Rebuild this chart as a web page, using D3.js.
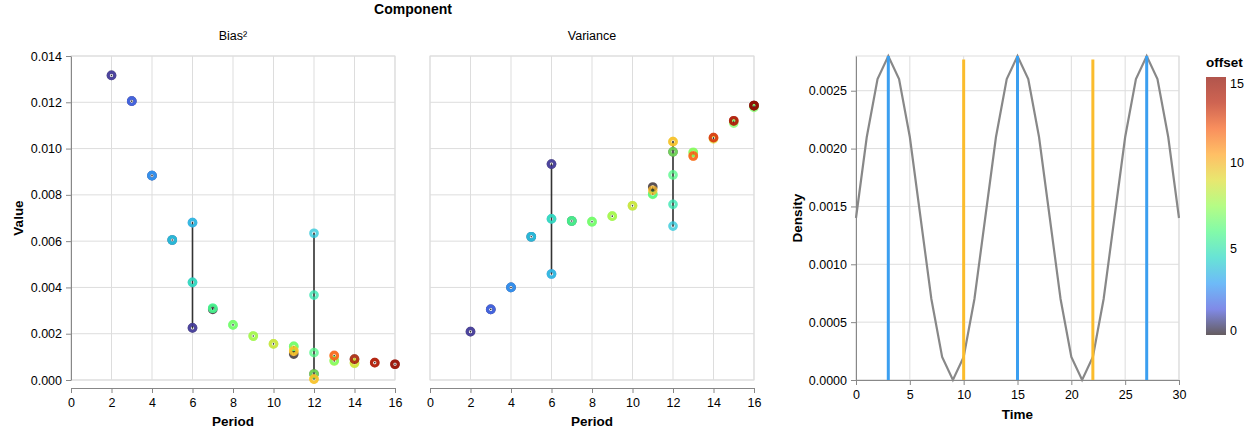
<!DOCTYPE html>
<html>
<head>
<meta charset="utf-8">
<script src="https://cdn.jsdelivr.net/npm/d3@7"></script>
<style>
body { margin: 0; background: #fff; }
svg text { font-family: "Liberation Sans", Arial, Helvetica, sans-serif; }
</style>
</head>
<body>
<div id="chart"></div>
<script>
// each point: [period, offset, value]
var biasPoints = [
    [2, 0, 0.01316], [2, 1, 0.01316],
    [3, 0, 0.01205], [3, 1, 0.01205], [3, 2, 0.01205],
    [4, 0, 0.00883], [4, 2, 0.00883], [4, 3, 0.00883],
    [5, 0, 0.00605], [5, 3, 0.00605], [5, 4, 0.00605],
    [6, 0, 0.00225], [6, 1, 0.00225], [6, 3, 0.00422], [6, 5, 0.00422], [6, 2, 0.0068], [6, 4, 0.0068],
    [7, 0, 0.00305], [7, 5, 0.0031], [7, 6, 0.0031],
    [8, 6, 0.00238], [8, 7, 0.00238],
    [9, 7, 0.0019], [9, 8, 0.0019],
    [10, 7, 0.00156], [10, 9, 0.00156],
    [11, 0, 0.00112], [11, 6, 0.00145], [11, 7, 0.00145], [11, 9, 0.00128], [11, 10, 0.00124],
    [12, 4, 0.00634], [12, 5, 0.00367], [12, 6, 0.00118], [12, 0, 0.00026], [12, 7, 0.00026],
    [12, 9, 0.00004], [12, 10, 0.00004],
    [13, 8, 0.00082], [13, 7, 0.00084], [13, 11, 0.00104], [13, 12, 0.00106],
    [14, 8, 0.00072], [14, 9, 0.00074], [14, 0, 0.0009], [14, 13, 0.0009],
    [15, 13, 0.00075], [15, 14, 0.00075],
    [16, 14, 0.00068], [16, 15, 0.00068]
];
var variancePoints = [
    [2, 0, 0.00209], [2, 1, 0.00209],
    [3, 0, 0.00305], [3, 1, 0.00305], [3, 2, 0.00305],
    [4, 0, 0.004], [4, 2, 0.004], [4, 3, 0.004],
    [5, 0, 0.00619], [5, 3, 0.00619], [5, 4, 0.00619],
    [6, 0, 0.00933], [6, 1, 0.00933], [6, 3, 0.00696], [6, 5, 0.00696], [6, 2, 0.00458], [6, 4, 0.00458],
    [7, 0, 0.00687], [7, 5, 0.00687], [7, 6, 0.00687],
    [8, 6, 0.00684], [8, 7, 0.00684],
    [9, 7, 0.00708], [9, 8, 0.00708],
    [10, 7, 0.00753], [10, 9, 0.00753],
    [11, 7, 0.00802], [11, 6, 0.00804], [11, 0, 0.00834], [11, 10, 0.0082],
    [12, 4, 0.00665], [12, 5, 0.00759], [12, 6, 0.00886], [12, 0, 0.00986], [12, 7, 0.00986],
    [12, 9, 0.0103], [12, 10, 0.0103],
    [13, 8, 0.00982], [13, 7, 0.00984], [13, 11, 0.00968], [13, 12, 0.00968],
    [14, 9, 0.01042], [14, 12, 0.01047], [14, 13, 0.01047],
    [15, 7, 0.0111], [15, 13, 0.0112], [15, 14, 0.0112],
    [16, 7, 0.01178], [16, 0, 0.01186], [16, 14, 0.01186], [16, 15, 0.01186]
];
var periodTicks = [0, 2, 4, 6, 8, 10, 12, 14, 16];
var valueTicks = [0, 0.002, 0.004, 0.006, 0.008, 0.010, 0.012, 0.014];

var densityTime = [0, 1, 2, 3, 4, 5, 6, 7, 8, 9, 10, 11, 12, 13, 14, 15, 16, 17, 18, 19, 20,
                   21, 22, 23, 24, 25, 26, 27, 28, 29, 30];
var densityValues = [0.0014, 0.0021, 0.0026, 0.0028, 0.0026, 0.0021, 0.0014, 0.0007, 0.0002, 0.0, 0.0002,
                     0.0007, 0.0014, 0.0021, 0.0026, 0.0028, 0.0026, 0.0021, 0.0014, 0.0007, 0.0002,
                     0.0, 0.0002, 0.0007, 0.0014, 0.0021, 0.0026, 0.0028, 0.0026, 0.0021, 0.0014];
var peakTimes = [3, 15, 27];
var peakTop = 0.0028;
var markTimes = [10, 22];
var markTop = 0.00277;
var timeTicks = [0, 5, 10, 15, 20, 25, 30];
var densityTicks = [0, 0.0005, 0.001, 0.0015, 0.002, 0.0025];
var offsetTicks = [0, 5, 10, 15];

var width = 1256, height = 431;
var top_ = 56, bottom = 380;
var labelSize = "12.5px", titleSize = "13.5px";

var svg = d3.select("#chart").append("svg")
    .attr("width", width)
    .attr("height", height);

var y = d3.scaleLinear().domain([0, 0.014]).range([bottom, top_]);
var color = d3.scaleSequential(d3.interpolateTurbo).domain([0, 15]);

function styleAxis(a) {
    a.selectAll(".domain").attr("stroke", "#888");
    a.selectAll(".tick line").attr("stroke", "#888");
    a.selectAll(".tick text").attr("fill", "#000").style("font-size", labelSize);
}

function grid(g, x, yy, xt, yt, x0, x1) {
    g.append("g").selectAll("line").data(xt).join("line")
        .attr("x1", function(d){ return x(d); }).attr("x2", function(d){ return x(d); })
        .attr("y1", top_).attr("y2", bottom)
        .attr("stroke", "#ddd");
    g.append("g").selectAll("line").data(yt).join("line")
        .attr("x1", x0).attr("x2", x1)
        .attr("y1", function(d){ return yy(d); }).attr("y2", function(d){ return yy(d); })
        .attr("stroke", "#ddd");
    g.append("rect")
        .attr("x", x0).attr("y", top_)
        .attr("width", x1 - x0).attr("height", bottom - top_)
        .attr("fill", "none").attr("stroke", "#ddd");
}

function drawPanel(x0, data, header, showY) {
    var g = svg.append("g");
    var x = d3.scaleLinear().domain([0, 16]).range([x0, x0 + 324]);
    grid(g, x, y, periodTicks, valueTicks, x0, x0 + 324);

    // spread of values for each period (round caps leave a dot when min == max)
    var spread = d3.rollups(data, function(v){ return d3.extent(v, function(d){ return d[2]; }); },
                            function(d){ return d[0]; });
    g.append("g").selectAll("line").data(spread).join("line")
        .attr("x1", function(d){ return x(d[0]); }).attr("x2", function(d){ return x(d[0]); })
        .attr("y1", function(d){ return y(d[1][0]); }).attr("y2", function(d){ return y(d[1][1]); })
        .attr("stroke", "#333").attr("stroke-width", 1.6)
        .attr("stroke-linecap", "round");

    g.append("g").selectAll("circle").data(data).join("circle")
        .attr("cx", function(d){ return x(d[0]); })
        .attr("cy", function(d){ return y(d[2]); })
        .attr("r", 3.3)
        .attr("fill", "none")
        .attr("stroke", function(d){ return color(d[1]); })
        .attr("stroke-width", 3.1)
        .attr("opacity", 0.75);

    var xa = g.append("g").attr("transform", "translate(0,388)")
        .call(d3.axisBottom(x).tickValues(periodTicks).tickSize(5).tickSizeOuter(0).tickPadding(5));
    styleAxis(xa);

    if (showY) {
        var ya = g.append("g").attr("transform", "translate(" + x0 + ",0)")
            .call(d3.axisLeft(y).tickValues(valueTicks).tickFormat(d3.format(".3f"))
                  .tickSize(5).tickSizeOuter(0).tickPadding(4));
        styleAxis(ya);
        g.append("text")
            .attr("transform", "translate(23," + ((top_ + bottom) / 2) + ") rotate(-90)")
            .attr("text-anchor", "middle")
            .style("font-size", titleSize).style("font-weight", "bold")
            .text("Value");
    }

    g.append("text")
        .attr("x", x0 + 162).attr("y", 426)
        .attr("text-anchor", "middle")
        .style("font-size", titleSize).style("font-weight", "bold")
        .text("Period");

    g.append("text")
        .attr("x", x0 + 162).attr("y", 40)
        .attr("text-anchor", "middle")
        .style("font-size", labelSize)
        .text(header);
}

drawPanel(71, biasPoints, "Bias\u00b2", true);
drawPanel(430, variancePoints, "Variance", false);

svg.append("text")
    .attr("x", 413).attr("y", 14)
    .attr("text-anchor", "middle")
    .style("font-size", "14px").style("font-weight", "bold")
    .text("Component");

// density panel
(function(){
    var g = svg.append("g");
    var x0 = 856, x1 = 1179;
    var x = d3.scaleLinear().domain([0, 30]).range([x0, x1]);
    var yd = d3.scaleLinear().domain([0, d3.max(densityValues)]).range([bottom, top_]);
    grid(g, x, yd, timeTicks, densityTicks, x0, x1);

    var line = d3.line()
        .x(function(d, i){ return x(densityTime[i]); })
        .y(function(d){ return yd(d); });
    g.append("path").datum(densityValues)
        .attr("d", line)
        .attr("fill", "none")
        .attr("stroke", "#888")
        .attr("stroke-width", 2.2);

    g.append("g").selectAll("line").data(peakTimes).join("line")
        .attr("x1", function(d){ return x(d); }).attr("x2", function(d){ return x(d); })
        .attr("y1", yd(0)).attr("y2", yd(peakTop))
        .attr("stroke", "#3b9ff0").attr("stroke-width", 3);
    g.append("g").selectAll("line").data(markTimes).join("line")
        .attr("x1", function(d){ return x(d); }).attr("x2", function(d){ return x(d); })
        .attr("y1", yd(0)).attr("y2", yd(markTop))
        .attr("stroke", "#fbbc2c").attr("stroke-width", 3);

    var xa = g.append("g").attr("transform", "translate(0," + bottom + ")")
        .call(d3.axisBottom(x).tickValues(timeTicks).tickSize(5).tickSizeOuter(0).tickPadding(5));
    styleAxis(xa);
    var ya = g.append("g").attr("transform", "translate(" + x0 + ",0)")
        .call(d3.axisLeft(yd).tickValues(densityTicks).tickFormat(d3.format(".4f"))
              .tickSize(5).tickSizeOuter(0).tickPadding(4));
    styleAxis(ya);

    g.append("text")
        .attr("x", (x0 + x1) / 2).attr("y", 419)
        .attr("text-anchor", "middle")
        .style("font-size", titleSize).style("font-weight", "bold")
        .text("Time");
    g.append("text")
        .attr("transform", "translate(802," + ((top_ + bottom) / 2) + ") rotate(-90)")
        .attr("text-anchor", "middle")
        .style("font-size", titleSize).style("font-weight", "bold")
        .text("Density");
})();

// colour legend
(function(){
    var lx = 1206, ly0 = 77, ly1 = 335;
    var grad = svg.append("defs").append("linearGradient")
        .attr("id", "offsetGrad")
        .attr("x1", "0").attr("y1", "1").attr("x2", "0").attr("y2", "0");
    d3.range(0, 1.0001, 0.1).forEach(function(t){
        grad.append("stop")
            .attr("offset", t)
            .attr("stop-color", d3.interpolateTurbo(t));
    });
    svg.append("rect")
        .attr("x", lx).attr("y", ly0)
        .attr("width", 20).attr("height", ly1 - ly0)
        .attr("fill", "url(#offsetGrad)")
        .attr("opacity", 0.7);

    var ly = d3.scaleLinear().domain([0, 15]).range([ly1, ly0]);
    svg.append("g").selectAll("text").data(offsetTicks).join("text")
        .attr("x", lx + 24)
        .attr("y", function(d){ return ly(d); })
        .attr("dy", function(d){ return d == 15 ? "0.9em" : (d == 0 ? "0" : "0.35em"); })
        .style("font-size", labelSize)
        .text(function(d){ return d; });

    svg.append("text")
        .attr("x", lx).attr("y", 67)
        .style("font-size", titleSize).style("font-weight", "bold")
        .text("offset");
})();
</script>
</body>
</html>
